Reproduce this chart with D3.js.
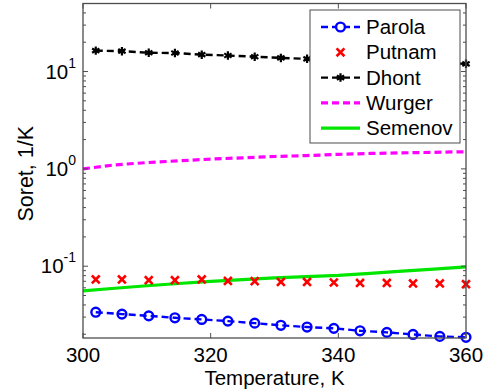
<!DOCTYPE html>
<html>
<head>
<meta charset="utf-8">
<script src="https://cdn.jsdelivr.net/npm/d3@7"></script>
<style>
  body { margin: 0; background: #fff; }
  svg { display: block; font-family: "Liberation Sans", Arial, sans-serif; }
</style>
</head>
<body>
<svg width="487" height="392"></svg>
<script>
// ---------- data ----------
const markerTemps = [302, 306.1, 310.3, 314.4, 318.6, 322.7, 326.9, 331, 335.1, 339.3, 343.4, 347.6, 351.7, 355.9, 360];
const parola = [0.0337, 0.0322, 0.0309, 0.0295, 0.0284, 0.0273, 0.0260, 0.0247, 0.0237, 0.0230, 0.0217, 0.0209, 0.0199, 0.0190, 0.0186];
const putnam = [0.0731, 0.0731, 0.0718, 0.0718, 0.0731, 0.0706, 0.0702, 0.0690, 0.0690, 0.0680, 0.0674, 0.0674, 0.0665, 0.0665, 0.0654];
const dhont = [16.4, 16.2, 15.6, 15.5, 14.9, 14.6, 14.2, 13.8, 13.5, 13.2, 12.9, 12.7, 12.4, 12.2, 12.0];

const curveTemps = [300, 305, 310, 315, 320, 325, 330, 335, 340, 345, 350, 355, 360];
const wurger = [1.00, 1.10, 1.16, 1.21, 1.26, 1.30, 1.34, 1.37, 1.41, 1.44, 1.46, 1.48, 1.50];
const semenov = [0.0558, 0.0594, 0.0630, 0.0664, 0.0697, 0.0728, 0.0760, 0.0782, 0.0805, 0.0845, 0.0890, 0.0935, 0.0984];

const xTicks = [300, 320, 340, 360];
const yMajor = [0.1, 1, 10];
const legendNames = ['Parola', 'Putnam', 'Dhont', 'Wurger', 'Semenov'];

// ---------- layout ----------
const margin = { left: 83, top: 3.5, right: 466, bottom: 338 };
const FONT = 20.5;
const AXIS_COLOR = '#4d4d4d';

const svg = d3.select('svg');

const x = d3.scaleLinear().domain([300, 360]).range([margin.left, margin.right]);
const y = d3.scaleLog().domain([0.0183, 50]).range([margin.bottom, margin.top]);

const plot = svg.append('g');

// ---------- series ----------
const line = (xs) => d3.line().x((d, i) => x(xs[i])).y((d) => y(d));

plot.append('path')
  .attr('d', line(curveTemps)(semenov))
  .attr('fill', 'none').attr('stroke', '#00e600').attr('stroke-width', 3.2);

plot.append('path')
  .attr('d', line(curveTemps)(wurger))
  .attr('fill', 'none').attr('stroke', '#ff00ff').attr('stroke-width', 3.2)
  .attr('stroke-dasharray', '7,4');

plot.append('path')
  .attr('d', line(markerTemps)(dhont))
  .attr('fill', 'none').attr('stroke', '#000').attr('stroke-width', 2.4)
  .attr('stroke-dasharray', '7,4');

plot.append('path')
  .attr('d', line(markerTemps)(parola))
  .attr('fill', 'none').attr('stroke', '#0000ff').attr('stroke-width', 2.4)
  .attr('stroke-dasharray', '7,4');

const star = d3.symbol().type(d3.symbolAsterisk).size(50);
const cross = d3.symbol().type(d3.symbolTimes).size(42);

plot.selectAll('.dhont').data(dhont).join('path')
  .attr('d', star)
  .attr('transform', (d, i) => `translate(${x(markerTemps[i])},${y(d)})`)
  .attr('stroke', '#000').attr('stroke-width', 2.2).attr('fill', 'none');

plot.selectAll('.putnam').data(putnam).join('path')
  .attr('d', cross)
  .attr('transform', (d, i) => `translate(${x(markerTemps[i])},${y(d)})`)
  .attr('stroke', '#ff0000').attr('stroke-width', 2.6).attr('fill', 'none');

plot.selectAll('.parola').data(parola).join('circle')
  .attr('cx', (d, i) => x(markerTemps[i]))
  .attr('cy', (d) => y(d))
  .attr('r', 4.4)
  .attr('stroke', '#0000ff').attr('stroke-width', 2.4).attr('fill', 'none');

// ---------- axes ----------
const frame = svg.append('g').attr('stroke', AXIS_COLOR).attr('fill', 'none');
frame.append('rect')
  .attr('x', margin.left).attr('y', margin.top)
  .attr('width', margin.right - margin.left)
  .attr('height', margin.bottom - margin.top)
  .attr('stroke-width', 1.3);

// x ticks, inward on bottom and top
xTicks.forEach((t) => {
  frame.append('line').attr('x1', x(t)).attr('x2', x(t))
    .attr('y1', margin.bottom).attr('y2', margin.bottom - 5);
  frame.append('line').attr('x1', x(t)).attr('x2', x(t))
    .attr('y1', margin.top).attr('y2', margin.top + 5);
});

svg.append('g').selectAll('text').data(xTicks).join('text')
  .attr('x', (d) => x(d)).attr('y', 362)
  .attr('text-anchor', 'middle').attr('font-size', FONT)
  .text((d) => d);

// y ticks: major + minor log ticks, inward on left and right
const yTicks = y.ticks();
yTicks.forEach((t) => {
  const major = yMajor.includes(t);
  const len = major ? 5 : 3;
  frame.append('line').attr('x1', margin.left).attr('x2', margin.left + len)
    .attr('y1', y(t)).attr('y2', y(t));
  frame.append('line').attr('x1', margin.right).attr('x2', margin.right - len)
    .attr('y1', y(t)).attr('y2', y(t));
});

const yLabels = svg.append('g').selectAll('text').data(yMajor).join('text')
  .attr('x', 76).attr('y', (d) => y(d) + 7)
  .attr('text-anchor', 'end').attr('font-size', FONT);
yLabels.append('tspan').text('10');
yLabels.append('tspan')
  .attr('font-size', 14).attr('dy', -11)
  .text((d) => Math.round(Math.log10(d)));

// axis titles
svg.append('text')
  .attr('x', (margin.left + margin.right) / 2).attr('y', 385)
  .attr('text-anchor', 'middle').attr('font-size', FONT)
  .text('Temperature, K');

svg.append('text')
  .attr('transform', `translate(33,${(margin.top + margin.bottom) / 2 + 3}) rotate(-90)`)
  .attr('text-anchor', 'middle').attr('font-size', 21.5)
  .text('Soret, 1/K');

// ---------- legend ----------
const legend = svg.append('g');
legend.append('rect')
  .attr('x', 310).attr('y', 10).attr('width', 150).attr('height', 133)
  .attr('fill', '#fff').attr('stroke', AXIS_COLOR).attr('stroke-width', 1);

const rowY = (i) => 27 + i * 25.3;
const lx1 = 321, lx2 = 360, lmid = (lx1 + lx2) / 2;

// Parola
legend.append('line').attr('x1', lx1).attr('x2', lx2).attr('y1', rowY(0)).attr('y2', rowY(0))
  .attr('stroke', '#0000ff').attr('stroke-width', 2.4).attr('stroke-dasharray', '7,4');
legend.append('circle').attr('cx', lmid).attr('cy', rowY(0)).attr('r', 4.4)
  .attr('stroke', '#0000ff').attr('stroke-width', 2.4).attr('fill', '#fff');
// Putnam
legend.append('path').attr('d', cross).attr('transform', `translate(${lmid},${rowY(1)})`)
  .attr('stroke', '#ff0000').attr('stroke-width', 2.6).attr('fill', 'none');
// Dhont
legend.append('line').attr('x1', lx1).attr('x2', lx2).attr('y1', rowY(2)).attr('y2', rowY(2))
  .attr('stroke', '#000').attr('stroke-width', 2.4).attr('stroke-dasharray', '7,4');
legend.append('path').attr('d', star).attr('transform', `translate(${lmid},${rowY(2)})`)
  .attr('stroke', '#000').attr('stroke-width', 2.2).attr('fill', 'none');
// Wurger
legend.append('line').attr('x1', lx1).attr('x2', lx2).attr('y1', rowY(3)).attr('y2', rowY(3))
  .attr('stroke', '#ff00ff').attr('stroke-width', 3.2).attr('stroke-dasharray', '7,4');
// Semenov
legend.append('line').attr('x1', lx1).attr('x2', lx2).attr('y1', rowY(4)).attr('y2', rowY(4))
  .attr('stroke', '#00e600').attr('stroke-width', 3.2);

legend.selectAll('text').data(legendNames).join('text')
  .attr('x', 366).attr('y', (d, i) => rowY(i) + 7)
  .attr('font-size', FONT)
  .text((d) => d);
</script>
</body>
</html>
